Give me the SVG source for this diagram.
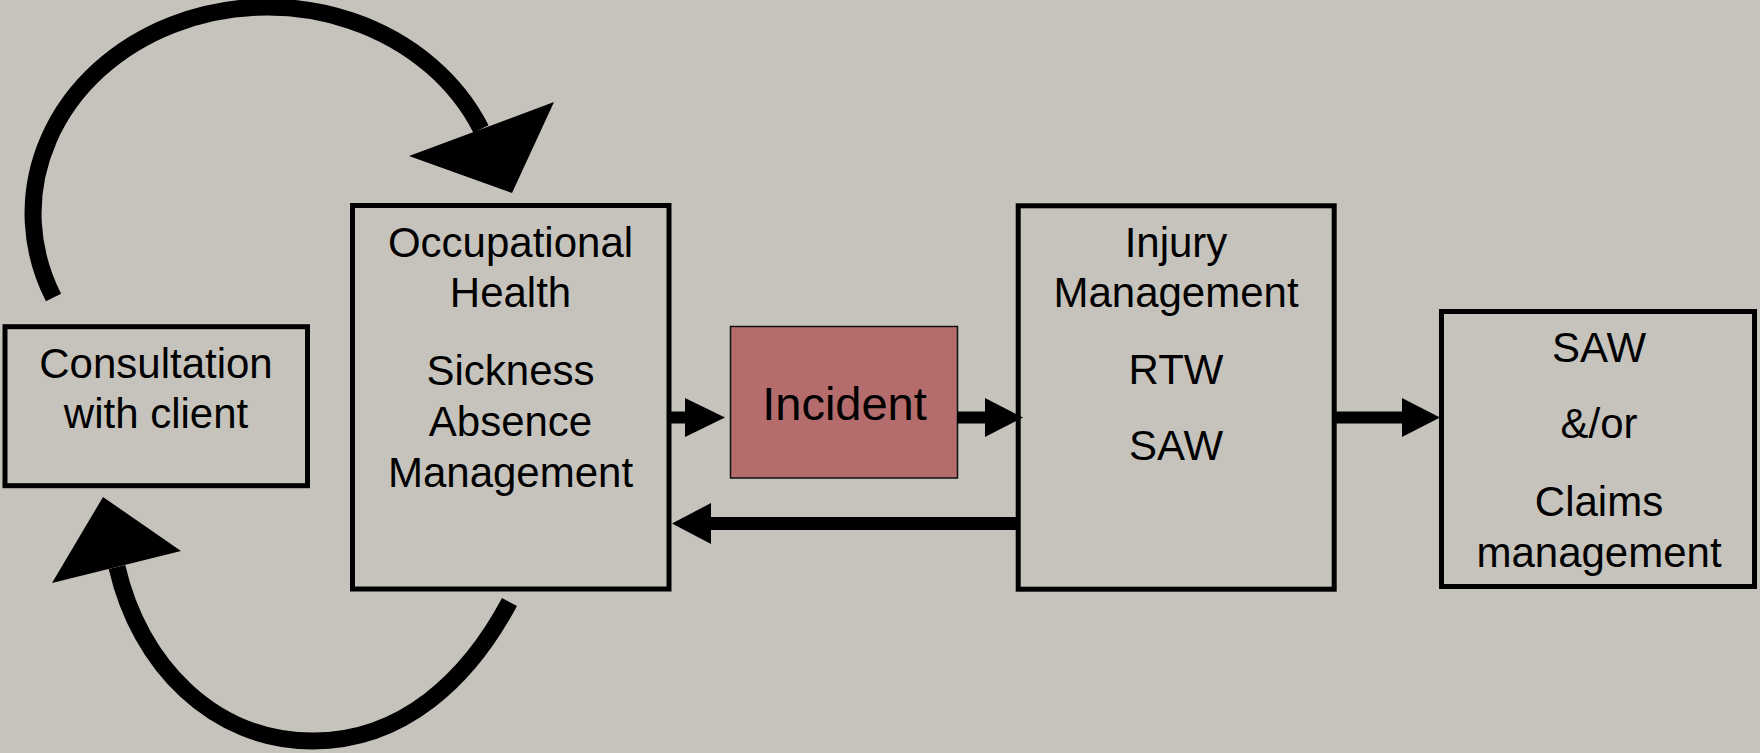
<svg xmlns="http://www.w3.org/2000/svg" width="1760" height="753" viewBox="0 0 1760 753">
<style>
.bg{fill:#c6c3bd}
.box{fill:none;stroke:#000;stroke-width:5}
.inc{fill:#b46c6c;stroke:#111;stroke-width:1.5}
.t{font-family:"Liberation Sans",Arial,Helvetica,sans-serif;font-size:42px;fill:#000;text-anchor:middle}
.big{font-size:47px}
.arc{fill:none;stroke:#000;stroke-width:17;stroke-linecap:butt}
.shaft{fill:none;stroke:#000;stroke-linecap:butt}
.head{fill:#000;stroke:none}
</style>
<rect class="bg" x="0" y="0" width="1760" height="753"/>
<g id="consultation">
<rect class="box" x="5" y="326.7" width="302.5" height="159"/>
<text class="t" x="156" y="378.3">Consultation</text>
<text class="t" x="156" y="428.3">with client</text>
</g>
<g id="occupational-health">
<rect class="box" x="352.5" y="205.5" width="316.5" height="383.5"/>
<text class="t" x="510.5" y="256.5">Occupational</text>
<text class="t" x="510.5" y="307">Health</text>
<text class="t" x="510.5" y="384.5">Sickness</text>
<text class="t" x="510.5" y="435.5">Absence</text>
<text class="t" x="510.5" y="486.5">Management</text>
</g>
<g id="incident">
<rect class="inc" x="730.5" y="326.5" width="227" height="151.5"/>
<text class="t big" x="844.5" y="420">Incident</text>
</g>
<g id="injury-management">
<rect class="box" x="1018.2" y="205.8" width="316" height="383.4"/>
<text class="t" x="1176" y="256.7">Injury</text>
<text class="t" x="1176" y="307.3">Management</text>
<text class="t" x="1176" y="384">RTW</text>
<text class="t" x="1176" y="460">SAW</text>
</g>
<g id="saw-claims">
<rect class="box" x="1441.5" y="311.5" width="313" height="275"/>
<text class="t" x="1599" y="361.7">SAW</text>
<text class="t" x="1599" y="438.3">&amp;/or</text>
<text class="t" x="1599" y="516">Claims</text>
<text class="t" x="1599" y="566.7">management</text>
</g>
<g id="connectors">
<path class="arc" d="M 53.5 297.5 A 234 206 0 1 1 481 129"/>
<polygon class="head" points="409,156 554,102 512,193"/>
<path class="arc" d="M 509.5 602 C 468.5 679 403 741 313 741 C 213 741 139 664 117 567"/>
<polygon class="head" points="103,497 181,551 52,583"/>
<path class="shaft" stroke-width="12" d="M 669 417.5 H 687"/>
<polygon class="head" points="685,398 725,417.5 685,437"/>
<path class="shaft" stroke-width="12" d="M 957 417.5 H 987"/>
<polygon class="head" points="985,398 1023,417.5 985,437"/>
<path class="shaft" stroke-width="13" d="M 1017 523.5 H 709"/>
<polygon class="head" points="711,503 672,523.5 711,544"/>
<path class="shaft" stroke-width="12" d="M 1334 417.5 H 1404"/>
<polygon class="head" points="1402,398 1440,417.5 1402,437"/>
</g>
</svg>
